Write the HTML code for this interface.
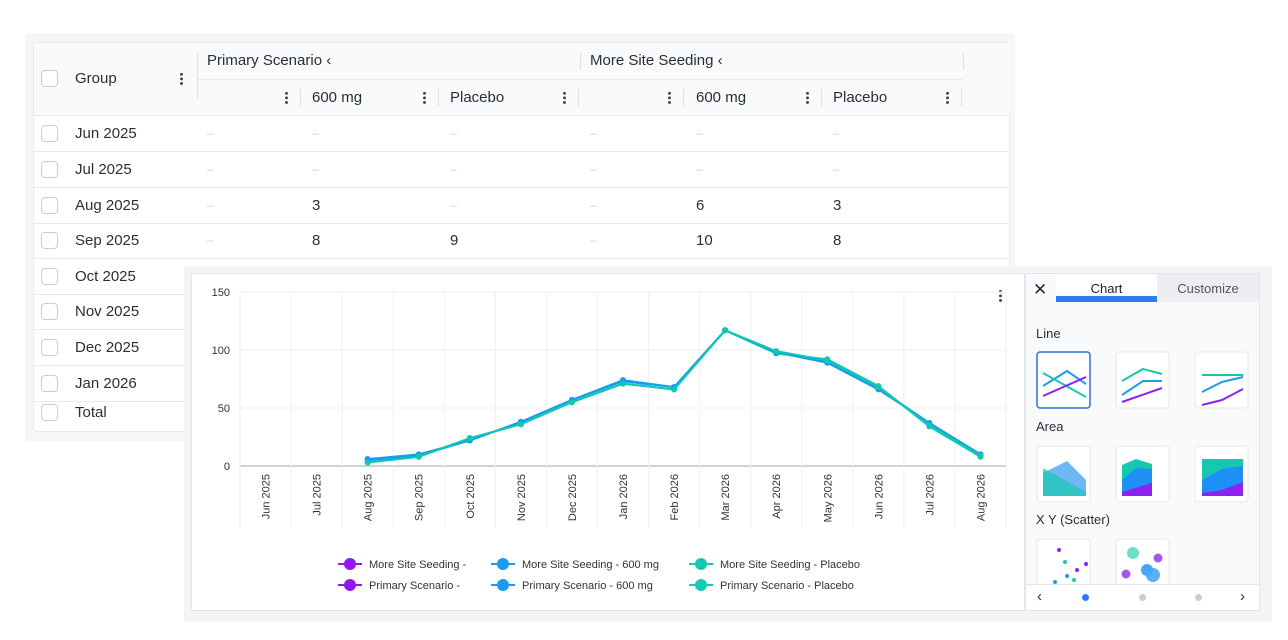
<!DOCTYPE html>
<html><head><meta charset="utf-8">
<style>
*{box-sizing:border-box;margin:0;padding:0}
body{width:1288px;height:640px;background:#fff;position:relative;overflow:hidden;font-family:"Liberation Sans",sans-serif;color:#222}
.a{position:absolute}
.cb{position:absolute;width:17px;height:17px;border:1px solid #c9cdd3;border-radius:4px;background:#fff}
.t{position:absolute;font-size:15px;color:#2a2f36;white-space:nowrap}
.d{position:absolute;font-size:12px;color:#c8ccd2}
.dots{position:absolute;width:3px;height:13px;background:radial-gradient(circle,#444 1.3px,transparent 1.6px) 0 0/3px 4.6px repeat-y}
.hl{position:absolute;height:1px;background:#e6e9ed}
</style></head><body>
<div class="a" style="left:25px;top:33px;width:990px;height:408px;background:#f4f6f8"></div>
<div class="a" style="left:33px;top:42px;width:977px;height:390px;background:#fff;border:1px solid #e6e9ed;border-radius:4px"></div>
<div class="a" style="left:34px;top:43px;width:976px;height:73px;background:#f8fafc;border-bottom:1px solid #e6e9ed"></div>
<div class="hl" style="left:197px;top:79px;width:766px"></div>
<div class="a" style="left:197px;top:52px;width:1px;height:46px;background:#dde0e4"></div>
<div class="a" style="left:580px;top:52px;width:1px;height:18px;background:#dde0e4"></div>
<div class="a" style="left:963px;top:52px;width:1px;height:18px;background:#dde0e4"></div>
<div class="cb" style="left:41px;top:70px"></div>
<div class="t" style="left:75px;top:70px">Group</div>
<div class="dots" style="left:180px;top:72px"></div>
<div class="t" style="left:207px;top:52px">Primary Scenario &lsaquo;</div>
<div class="t" style="left:590px;top:52px">More Site Seeding &lsaquo;</div>
<div id="subhdr"></div>
<div id="rows"></div>

<div class="a" style="left:184px;top:266px;width:1088px;height:356px;background:#f3f4f6"></div>
<div class="a" style="left:191px;top:273px;width:834px;height:338px;background:#fff;border:1px solid #e3e6ea"></div>
<div class="dots" style="left:999px;top:289px"></div>
<svg class="a" id="chart" style="left:191px;top:273px" width="834" height="338"></svg>

<div class="a" style="left:1025px;top:273px;width:235px;height:338px;background:#f9fafb;border:1px solid #e3e6ea"></div>
<div class="t" style="left:1033px;top:280px;font-size:17px">✕</div>
<div class="a" style="left:1056px;top:274px;width:101px;height:28px;background:#fff;font-size:13px;text-align:center;line-height:29px;color:#222">Chart</div>
<div class="a" style="left:1056px;top:296px;width:101px;height:6px;background:#2f7cf0"></div>
<div class="a" style="left:1157px;top:274px;width:102px;height:28px;background:#eceef1;font-size:13px;text-align:center;line-height:29px;color:#555">Customize</div>
<div class="t" style="left:1036px;top:326px;font-size:13px">Line</div>
<div class="t" style="left:1036px;top:419px;font-size:13px">Area</div>
<div class="t" style="left:1036px;top:512px;font-size:13px">X Y (Scatter)</div>
<svg class="a" style="left:1025px;top:340px" width="235" height="250">
<g fill="#fff" stroke="#e5e7eb"><rect x="12" y="12" width="53" height="56" rx="3" stroke="#2f6fd6" stroke-width="1.5"/><rect x="91" y="12" width="53" height="56" rx="3"/><rect x="170" y="12" width="53" height="56" rx="3"/><rect x="12" y="106" width="53" height="56" rx="3"/><rect x="91" y="106" width="53" height="56" rx="3"/><rect x="170" y="106" width="53" height="56" rx="3"/><rect x="12" y="199" width="53" height="50" rx="3"/><rect x="91" y="199" width="53" height="50" rx="3"/></g>
<g fill="none" stroke-width="2"><path d="M18 46L42 31 61 44" stroke="#1e9bf0"/><path d="M18 33L61 57" stroke="#17c8b0"/><path d="M18 56L61 37" stroke="#8e22ef"/>
<path d="M97 35L112 30 131 35 ..." stroke="none"/><path d="M97 41L118 29 137 34" stroke="#17c8b0"/><path d="M97 55L118 41 137 41" stroke="#1e9bf0"/><path d="M97 62L137 48" stroke="#8e22ef"/>
<path d="M177 35L218 35" stroke="#17c8b0"/><path d="M177 52L197 42 218 37" stroke="#1e9bf0"/><path d="M177 65L197 60 218 49" stroke="#8e22ef"/></g>
<path d="M18 133L42 121 61 140V156H18Z" fill="#4aa6f5" opacity=".8"/><path d="M18 128L61 152V156H18Z" fill="#17c8b0" opacity=".7"/>
<path d="M97 125L111 119 127 124V156H97Z" fill="#17c8b0"/><path d="M97 140L111 128 127 129V156H97Z" fill="#1e8ff5"/><path d="M97 152L127 143V156H97Z" fill="#8e22ef"/>
<path d="M177 119H218V156H177Z" fill="#17c8b0"/><path d="M177 140L197 129 218 126V156H177Z" fill="#1e8ff5"/><path d="M177 153L197 150 218 142V156H177Z" fill="#8e22ef"/>
<g fill="#8e22ef"><circle cx="34" cy="210" r="2"/><circle cx="61" cy="224" r="2"/><circle cx="52" cy="230" r="2"/></g><g fill="#1e9bf0"><circle cx="30" cy="242" r="2"/><circle cx="42" cy="236" r="2"/></g><g fill="#17c8b0"><circle cx="40" cy="222" r="2"/><circle cx="49" cy="240" r="2"/></g>
<circle cx="108" cy="213" r="6" fill="#6ee0c8"/><circle cx="133" cy="218" r="4.5" fill="#a35af0"/><circle cx="101" cy="234" r="4.5" fill="#a35af0"/><circle cx="122" cy="230" r="6" fill="#4aa6f5"/><circle cx="128" cy="235" r="7" fill="#4aa6f5" opacity=".9"/>
</svg>
<div class="a" style="left:1026px;top:584px;width:233px;height:26px;background:#fff;border-top:1px solid #e3e6ea"></div>
<div class="t" style="left:1037px;top:588px;font-size:15px">&lsaquo;</div>
<div class="t" style="left:1240px;top:588px;font-size:15px">&rsaquo;</div>
<div class="a" style="left:1082px;top:594px;width:7px;height:7px;border-radius:50%;background:#2f7cf0"></div>
<div class="a" style="left:1139px;top:594px;width:7px;height:7px;border-radius:50%;background:#ccc"></div>
<div class="a" style="left:1195px;top:594px;width:7px;height:7px;border-radius:50%;background:#ccc"></div>

<script>
// table
const rowLabels=["Jun 2025","Jul 2025","Aug 2025","Sep 2025","Oct 2025","Nov 2025","Dec 2025","Jan 2026","Total"];
const rowTops=[133,169,205,240,276,311,347,383,412];
const tableVals=[["-","-","-","-","-","-"],["-","-","-","-","-","-"],["-","3","-","-","6","3"],["-","8","9","-","10","8"]];
const colX=[207,312,450,590,696,833];
const sub=document.getElementById('subhdr');
const subNames=["","600 mg","Placebo","","600 mg","Placebo"];
const dotX=[285,423,563,668,806,946];
subNames.forEach((n,i)=>{
 if(n){const t=document.createElement('div');t.className='t';t.style.left=colX[i]+'px';t.style.top='89px';t.textContent=n;
 
 sub.appendChild(t);}
 const d=document.createElement('div');d.className='dots';d.style.left=dotX[i]+'px';d.style.top='91px';
 
 sub.appendChild(d);
 const s=document.createElement('div');s.className='a';s.style.cssText='left:'+(dotX[i]+15)+'px;top:89px;width:1px;height:17px;background:#dde0e4';sub.appendChild(s);
});
const rows=document.getElementById('rows');
rowLabels.forEach((l,i)=>{
 const y=rowTops[i];
 const c=document.createElement('div');c.className='cb';c.style.left='41px';c.style.top=(y-8)+'px';
 
 rows.appendChild(c);
 const t=document.createElement('div');t.className='t';t.style.left='75px';t.style.top=(y-8)+'px';t.textContent=l;
 
 rows.appendChild(t);
 if(i<8){const h=document.createElement('div');h.className='hl';h.style.left='34px';h.style.top=(y+18)+'px';h.style.width='976px';rows.appendChild(h);}
 if(tableVals[i]) tableVals[i].forEach((v,j)=>{
  const e=document.createElement('div');e.className=v==='-'?'d':'t';e.style.left=colX[j]+'px';e.style.top=(y-8+(v==='-'?1:0))+'px';e.textContent=v==='-'?'–':v;
  
  rows.appendChild(e);});
});
</script>
<script>
const categories=["Jun 2025","Jul 2025","Aug 2025","Sep 2025","Oct 2025","Nov 2025","Dec 2025","Jan 2026","Feb 2026","Mar 2026","Apr 2026","May 2026","Jun 2026","Jul 2026","Aug 2026"];
const yTicks=[0,50,100,150];
const mss600=[null,null,6,10,22,38,57,73,68,117,98,89,66,37,10];
const mssPlacebo=[null,null,3,8,24,36,55,71,66,117,97,92,69,34,8];
const ps600=[null,null,5,9,22,38,57,74,68,117,98,90,67,37,10];
const psPlacebo=[null,null,3,8,24,36,55,71,66,117,99,91,68,35,9];
const seriesNames=["More Site Seeding - 600 mg","More Site Seeding - Placebo","Primary Scenario - 600 mg","Primary Scenario - Placebo"];
const svg=document.getElementById('chart');const NS='http://www.w3.org/2000/svg';
const L=49,R=815,Y0=193,Y1=19;
const band=(R-L)/categories.length;
const xs=i=>L+band*(i+0.5);
const ys=v=>Y0-(v-0)/(150)*(Y0-Y1);
function el(tag,attrs,parent){const e=document.createElementNS(NS,tag);for(const k in attrs)e.setAttribute(k,attrs[k]);(parent||svg).appendChild(e);return e;}
yTicks.forEach(v=>{
 const g=el('line',{x1:L,x2:R,y1:ys(v),y2:ys(v),stroke:v===0?'#cfd3d8':'#eef0f2','stroke-width':v===0?2:1});
 
 
 const t=el('text',{x:L-10,y:ys(v)+4,'text-anchor':'end','font-size':11,fill:'#333','font-family':'Liberation Sans'});t.textContent=v;
 
 
});
for(let i=0;i<=categories.length;i++){const x=L+band*i;el('line',{x1:x,x2:x,y1:Y1,y2:Y0+62,stroke:'#eef0f2'});}
categories.forEach((c,i)=>{
 const t=el('text',{transform:`translate(${xs(i)+4},${Y0+8}) rotate(-90)`,'text-anchor':'end','font-size':11,fill:'#333','font-family':'Liberation Sans'});t.textContent=c;
 
 
});
const cols=['#1a9cf0','#16c9b3','#139cf0','#12c6b0'];
[mss600,mssPlacebo,ps600,psPlacebo].forEach((s,k)=>{
 let d='';s.forEach((v,i)=>{if(v!==null)d+=(d?'L':'M')+xs(i)+' '+ys(v);});
 const p=el('path',{d,fill:'none',stroke:cols[k],'stroke-width':2});
 
 
 s.forEach((v,i)=>{if(v!==null){const c=el('circle',{cx:xs(i),cy:ys(v),r:3,fill:cols[k]});
 
 }});
});
const legendItems=[["More Site Seeding -",'#9416f0',159,291],["More Site Seeding - 600 mg",'#1a9cf0',312,291],["More Site Seeding - Placebo",'#16c9b3',510,291],["Primary Scenario -",'#9416f0',159,312],["Primary Scenario - 600 mg",'#1a9cf0',312,312],["Primary Scenario - Placebo",'#16c9b3',510,312]];
legendItems.forEach(([n,c,x,y])=>{
 const g=el('g',{});
 
 
 el('line',{x1:x-12,x2:x+12,y1:y,y2:y,stroke:c,'stroke-width':2},g);
 el('circle',{cx:x,cy:y,r:6,fill:c},g);
 const t=el('text',{x:x+19,y:y+4,'font-size':11,fill:'#333','font-family':'Liberation Sans'},g);t.textContent=n;
});
</script>
</body></html>
